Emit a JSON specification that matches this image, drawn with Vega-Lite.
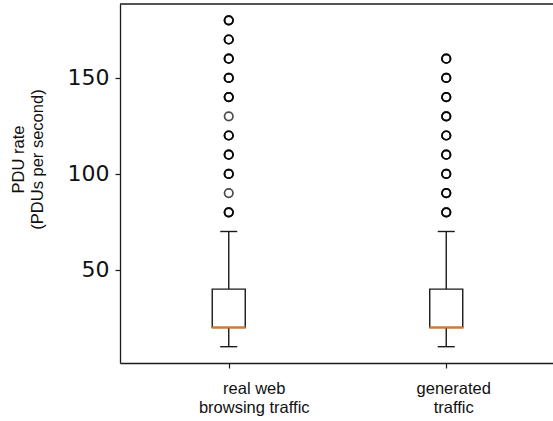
{
  "$schema": "https://vega.github.io/schema/vega-lite/v6.json",
  "width": 435,
  "height": 359,
  "autosize": {"type": "none"},
  "padding": {"left": 120, "top": 4, "right": 0, "bottom": 58},
  "background": "white",
  "config": {
    "view": {"stroke": null},
    "axis": {"grid": false, "domain": true, "domainColor": "#1a1a1a", "domainWidth": 1.3, "tickColor": "#1a1a1a", "tickWidth": 1.2, "tickSize": 5, "labelColor": "#111", "titleColor": "#111"}
  },
  "datasets": {
    "boxes": [
      {"traffic": "real", "q1": 20, "median": 20, "q3": 40, "lo": 10, "hi": 70},
      {"traffic": "generated", "q1": 20, "median": 20, "q3": 40, "lo": 10, "hi": 70}
    ],
    "outliers": [
      {"traffic": "real", "value": 80}, {"traffic": "real", "value": 80}, {"traffic": "real", "value": 80},
      {"traffic": "real", "value": 90},
      {"traffic": "real", "value": 100}, {"traffic": "real", "value": 100}, {"traffic": "real", "value": 100},
      {"traffic": "real", "value": 110}, {"traffic": "real", "value": 110}, {"traffic": "real", "value": 110},
      {"traffic": "real", "value": 120}, {"traffic": "real", "value": 120}, {"traffic": "real", "value": 120},
      {"traffic": "real", "value": 130},
      {"traffic": "real", "value": 140}, {"traffic": "real", "value": 140}, {"traffic": "real", "value": 140},
      {"traffic": "real", "value": 150}, {"traffic": "real", "value": 150}, {"traffic": "real", "value": 150},
      {"traffic": "real", "value": 160}, {"traffic": "real", "value": 160}, {"traffic": "real", "value": 160},
      {"traffic": "real", "value": 170}, {"traffic": "real", "value": 170}, {"traffic": "real", "value": 170},
      {"traffic": "real", "value": 180}, {"traffic": "real", "value": 180}, {"traffic": "real", "value": 180},
      {"traffic": "generated", "value": 80}, {"traffic": "generated", "value": 80}, {"traffic": "generated", "value": 80},
      {"traffic": "generated", "value": 90}, {"traffic": "generated", "value": 90}, {"traffic": "generated", "value": 90},
      {"traffic": "generated", "value": 100}, {"traffic": "generated", "value": 100}, {"traffic": "generated", "value": 100},
      {"traffic": "generated", "value": 110}, {"traffic": "generated", "value": 110}, {"traffic": "generated", "value": 110},
      {"traffic": "generated", "value": 120}, {"traffic": "generated", "value": 120}, {"traffic": "generated", "value": 120},
      {"traffic": "generated", "value": 130}, {"traffic": "generated", "value": 130}, {"traffic": "generated", "value": 130},
      {"traffic": "generated", "value": 140}, {"traffic": "generated", "value": 140}, {"traffic": "generated", "value": 140},
      {"traffic": "generated", "value": 150}, {"traffic": "generated", "value": 150}, {"traffic": "generated", "value": 150},
      {"traffic": "generated", "value": 160}, {"traffic": "generated", "value": 160}, {"traffic": "generated", "value": 160}
    ]
  },
  "layer": [
    {
      "encoding": {
        "x": {
          "field": "traffic",
          "type": "nominal",
          "scale": {"type": "point", "domain": ["real", "generated"], "padding": 0.5},
          "axis": {
            "title": null,
            "labelAngle": 0,
            "labelFont": "Liberation Sans",
            "labelFontSize": 16.5,
            "labelLineHeight": 19.5,
            "labelPadding": 12,
            "labelBaseline": "top",
            "labelOffset": {"condition": {"test": "datum.value == 'real'", "value": 25}, "value": 7},
            "labelExpr": "datum.value == 'real' ? ['real web', 'browsing traffic'] : ['generated', 'traffic']"
          }
        }
      },
      "layer": [
        {
          "data": {"name": "boxes"},
          "mark": {"type": "rule", "color": "#1a1a1a", "strokeWidth": 1.4},
          "encoding": {
            "y": {
              "field": "lo",
              "type": "quantitative",
              "scale": {"domain": [1.5, 188.5], "nice": false, "zero": false},
              "axis": {
                "values": [50, 100, 150],
                "labelFont": "DejaVu Sans",
                "labelFontSize": 22,
                "labelPadding": 6,
                "title": ["PDU rate", "(PDUs per second)"],
                "titleFont": "Liberation Sans",
                "titleFontSize": 16.5,
                "titleFontWeight": "normal",
                "titleLineHeight": 19.5,
                "titleAngle": -90,
                "titleAlign": "center",
                "titleBaseline": "middle",
                "titleX": -102,
                "titleY": 155
              }
            },
            "y2": {"field": "hi"}
          }
        },
        {
          "data": {"name": "boxes"},
          "mark": {"type": "bar", "size": 33, "fill": "white", "stroke": "#1a1a1a", "strokeWidth": 1.4},
          "encoding": {
            "y": {"field": "q1", "type": "quantitative"},
            "y2": {"field": "q3"}
          }
        },
        {
          "data": {"name": "boxes"},
          "mark": {"type": "tick", "size": 34, "thickness": 2, "color": "#e8741a", "opacity": 1},
          "encoding": {"y": {"field": "median", "type": "quantitative"}}
        },
        {
          "data": {"name": "boxes"},
          "mark": {"type": "tick", "size": 17, "thickness": 1.4, "color": "#1a1a1a", "opacity": 1},
          "encoding": {"y": {"field": "lo", "type": "quantitative"}}
        },
        {
          "data": {"name": "boxes"},
          "mark": {"type": "tick", "size": 17, "thickness": 1.4, "color": "#1a1a1a", "opacity": 1},
          "encoding": {"y": {"field": "hi", "type": "quantitative"}}
        },
        {
          "data": {"name": "outliers"},
          "mark": {"type": "point", "shape": "circle", "size": 72, "filled": false, "stroke": "#000", "strokeWidth": 1.7, "opacity": 0.7},
          "encoding": {"y": {"field": "value", "type": "quantitative"}}
        }
      ]
    },
    {
      "data": {"values": [{}]},
      "mark": {"type": "rule", "color": "#1a1a1a", "strokeWidth": 1.3},
      "encoding": {"y": {"datum": 188.5, "type": "quantitative"}}
    }
  ]
}
